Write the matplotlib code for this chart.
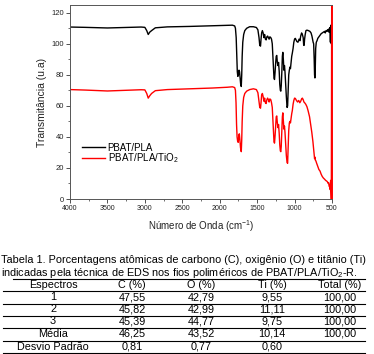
import matplotlib
matplotlib.use("Agg")
import matplotlib.pyplot as plt
from matplotlib.lines import Line2D
from matplotlib.ticker import MultipleLocator

plt.rcParams["font.family"] = ["Liberation Sans", "DejaVu Sans"]
plt.rcParams["mathtext.fontset"] = "custom"
plt.rcParams["mathtext.rm"] = "Liberation Sans"

# ─── FTIR spectra (wavenumber, transmittance) ────────────────────────────────
wn_black = [4000, 3800, 3500, 3200, 3050, 3000, 2975, 2955, 2935, 2910, 2860, 2700, 2400, 2100,
            1900, 1830, 1800, 1790, 1780, 1772, 1765, 1758, 1750, 1742, 1735, 1728, 1720, 1712,
            1706, 1700, 1692, 1680, 1665, 1640, 1600, 1550, 1510, 1490, 1475, 1465, 1455, 1448,
            1440, 1430, 1420, 1410, 1400, 1390, 1380, 1370, 1360, 1350, 1340, 1330, 1318, 1308,
            1298, 1290, 1282, 1275, 1268, 1260, 1252, 1245, 1238, 1230, 1222, 1214, 1205, 1198,
            1190, 1184, 1178, 1170, 1163, 1157, 1150, 1142, 1135, 1128, 1120, 1110, 1100, 1093,
            1086, 1078, 1070, 1062, 1055, 1047, 1038, 1030, 1020, 1010, 1000, 990, 980, 970, 955,
            940, 928, 918, 906, 896, 885, 878, 872, 866, 858, 848, 835, 815, 795, 780, 768, 760,
            752, 745, 738, 733, 728, 724, 718, 710, 700, 690, 675, 660, 645, 630, 615, 600, 590,
            580, 570, 560, 550, 545, 540, 535, 530, 527, 524, 521, 518, 515, 512, 509, 506]
tr_black = [110.8, 110.6, 110.2, 110.6, 110.8, 110.6, 108.5, 106, 107.5, 108.5, 110.3, 110.9, 111.2, 111.6,
            111.9, 112, 111.5, 110, 104, 92, 82, 79, 80, 83, 82, 78, 74, 72.5,
            80, 92, 101, 106, 108.5, 110, 111, 111, 110.5, 109, 104, 99, 98.5, 103,
            107, 108.5, 107, 104, 106, 103, 102.5, 104.5, 105, 104, 103, 104.5, 104, 103,
            100, 92, 83, 78, 77, 82, 88, 92, 92.5, 88, 86, 88, 82, 74,
            70, 69.5, 73, 82, 92, 94.5, 90, 83, 86, 82, 75, 66, 59, 60,
            70, 80, 83, 85, 84, 88, 92, 94, 97, 101, 103, 103.5, 102.5, 101.5, 101,
            103, 102, 105, 107, 106, 104, 99, 99, 103, 106, 108.5, 108.8, 108.5, 108, 107, 105, 103,
            101, 100, 90, 80, 78, 83, 97, 101, 102, 103.5, 104.5, 105.5, 106.5, 107, 107.5, 108, 107,
            108.5, 108, 109, 108, 109.5, 107.5, 109, 108.5, 110.5, 106, 101, 109, 112, 106, 100, 101]

wn_red = [4000, 3800, 3500, 3200, 3050, 3000, 2975, 2955, 2935, 2910, 2860, 2700, 2400, 2100,
          1900, 1830, 1800, 1790, 1782, 1775, 1768, 1760, 1752, 1745, 1738, 1730, 1722, 1712,
          1706, 1700, 1692, 1680, 1665, 1640, 1600, 1550, 1510, 1490, 1475, 1465, 1455, 1448,
          1440, 1430, 1420, 1410, 1400, 1390, 1380, 1370, 1360, 1350, 1340, 1330, 1318, 1308,
          1298, 1290, 1282, 1275, 1268, 1260, 1252, 1245, 1238, 1230, 1222, 1214, 1205, 1198,
          1190, 1184, 1178, 1170, 1163, 1157, 1150, 1142, 1135, 1128, 1120, 1110, 1100, 1093,
          1086, 1078, 1070, 1062, 1055, 1047, 1038, 1030, 1020, 1010, 1000, 990, 975, 960, 945,
          930, 918, 906, 896, 885, 875, 865, 850, 835, 820, 800, 785, 770, 755, 745, 738, 733,
          728, 722, 715, 705, 690, 675, 660, 645, 630, 615, 600, 585, 570, 560, 550, 545, 540,
          535, 530, 527, 524, 521, 518, 515, 512, 509, 506, 504]
tr_red = [70.5, 70.2, 69.6, 70.1, 70.4, 70.3, 68, 65, 66.5, 68, 69.8, 70.5, 71, 71.5,
          72, 72.3, 71.8, 70, 62, 48, 40, 37, 36.5, 41, 42, 38, 33, 30.5,
          38, 50, 60, 65.5, 68, 69.5, 70.5, 71, 70.5, 68.5, 63, 59, 58.5, 62,
          67, 68, 66, 63, 65, 62, 61.5, 64, 65, 64, 62.5, 64.5, 64, 62,
          59, 51, 42, 37, 36, 41, 48, 53, 53.5, 49, 46, 48, 42, 35,
          31, 30.5, 34, 44, 53, 55.5, 51, 45, 47, 43, 36, 28, 23.5, 23,
          33, 44, 49, 50, 49, 52, 55, 57, 61, 63.5, 65, 64.8, 63.5, 62.5, 63.5,
          62, 63, 64.5, 65, 64, 62.5, 62, 61, 59.5, 57, 53, 48, 43, 37, 32, 29, 26,
          27, 25, 24.5, 23, 21, 19, 18, 16, 14.5, 13.5, 12.8, 12, 11.5, 11, 10, 10.5, 9,
          8, 9, 8, 6, 9, 12, 8, 4, 0, 70, 130]

series_labels = ["PBAT/PLA", r"PBAT/PLA/TiO$_\mathregular{2}$"]

# ─── Table 1 (EDS) ───────────────────────────────────────────────────────────
caption_lines = [
    "Tabela 1. Porcentagens atômicas de carbono (C), oxigênio (O) e titânio (Ti)",
    r"indicadas pela técnica de EDS nos fios poliméricos de PBAT/PLA/TiO$_\mathregular{2}$-R.",
]
table_header = ["Espectros", "C (%)", "O (%)", "Ti (%)", "Total (%)"]
row_names = ["1", "2", "3", "Média", "Desvio Padrão"]
c_pct = ["47,55", "45,82", "45,39", "46,25", "0,81"]
o_pct = ["42,79", "42,99", "44,77", "43,52", "0,77"]
ti_pct = ["9,55", "11,11", "9,75", "10,14", "0,60"]
total_pct = ["100,00", "100,00", "100,00", "100,00", ""]

W, H = 374, 354
fig = plt.figure(figsize=(W / 100, H / 100), dpi=100)


def fx(px):
    return px / W


def fy(py):
    return 1 - py / H


ax = fig.add_axes([fx(70), fy(199), fx(332) - fx(70), fy(5) - fy(199)])
ax.plot(wn_black, tr_black, color="black", lw=1.0, label=series_labels[0])
ax.plot(wn_red, tr_red, color="red", lw=1.0, label=series_labels[1])
ax.set_xlim(4000, 500)
ax.set_ylim(0, 125)
ax.xaxis.set_major_locator(MultipleLocator(500))
ax.xaxis.set_minor_locator(MultipleLocator(250))
ax.yaxis.set_major_locator(MultipleLocator(20))
ax.yaxis.set_minor_locator(MultipleLocator(10))
ax.tick_params(which="major", direction="out", length=3, width=0.6, colors="#333333", pad=1.5)
ax.tick_params(which="minor", direction="out", length=1.5, width=0.5, colors="#333333")
ax.tick_params(axis="x", labelsize=5, labelcolor="#222222")
ax.tick_params(axis="y", labelsize=5.5, labelcolor="#222222")
for s in ax.spines.values():
    s.set_color("#555555")
    s.set_linewidth(0.7)
ax.spines["right"].set_color("red")
ax.set_xlabel("Número de Onda (cm$^\\mathregular{-1}$)", fontsize=7, color="#222222", labelpad=4)
ax.set_ylabel("Transmitância (u.a)", fontsize=7.5, color="#222222", labelpad=3)
ax.legend(loc="lower left", bbox_to_anchor=(0.045, 0.175), frameon=False, fontsize=7,
          handlelength=2.4, handletextpad=0.25, labelspacing=-0.15, borderpad=0,
          borderaxespad=0)

# caption
fig.text(fx(1), fy(260), caption_lines[0], fontsize=7.8, ha="left", va="center")
fig.text(fx(1), fy(272.5), caption_lines[1], fontsize=7.8, ha="left", va="center")

# table text
col_x = [53, 132, 201, 272, 340]
row_y = [297, 309.5, 321.5, 334, 346.5]
for cx, h in zip(col_x, table_header):
    fig.text(fx(cx), fy(285), h, fontsize=7.8, ha="center", va="center")
columns = [row_names, c_pct, o_pct, ti_pct, total_pct]
for cx, col in zip(col_x, columns):
    for ry, val in zip(row_y, col):
        fig.text(fx(cx), fy(ry), val, fontsize=7.8, ha="center", va="center")

# table rules
for ly, x0 in zip([278.5, 291, 303.5, 316, 328, 340.5, 353], [13, 3, 3, 3, 3, 3, 3]):
    fig.add_artist(Line2D([fx(x0), fx(365)], [fy(ly), fy(ly)], color="black", lw=0.8))

fig.savefig("out.png", dpi=100)
